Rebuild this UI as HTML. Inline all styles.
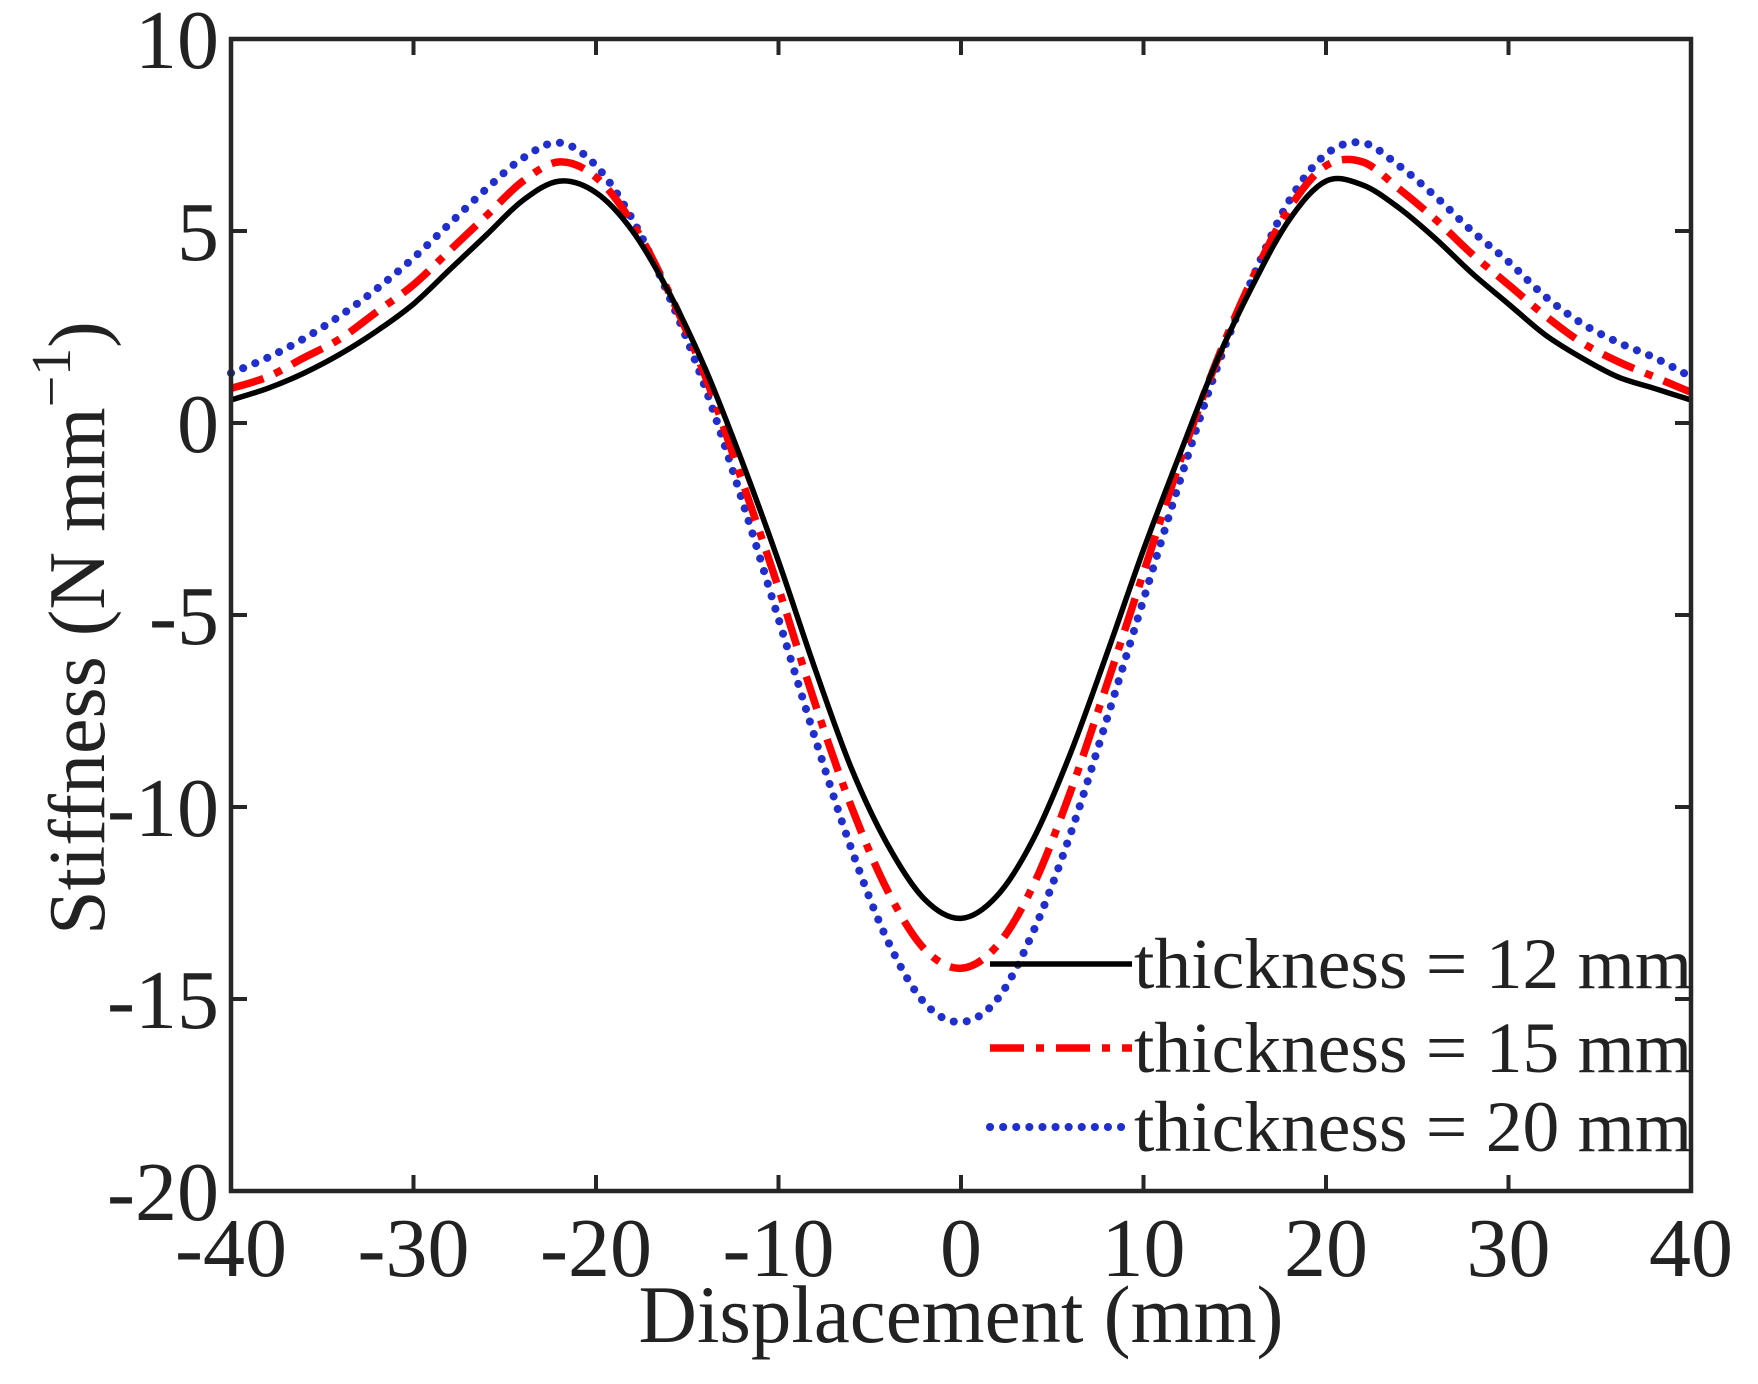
<!DOCTYPE html>
<html><head><meta charset="utf-8"><style>
html,body{margin:0;padding:0;background:#fff}
svg{display:block}
text{font-family:"Liberation Serif",serif;fill:#222}
</style></head><body>
<svg id="chart" width="1758" height="1384" viewBox="0 0 1758 1384" xmlns="http://www.w3.org/2000/svg">
<g id="plot"></g>
<g id="axes"></g>
<text x="961" y="1342" font-size="82" text-anchor="middle" textLength="645" lengthAdjust="spacingAndGlyphs">Displacement (mm)</text>
<text transform="translate(104,628) rotate(-90)" font-size="80" text-anchor="middle">Stiffness (N mm<tspan font-size="56" dy="-34">−1</tspan><tspan dy="34">)</tspan></text>
<g id="legend"></g>
</svg>
<script>
const xs = [-40,-38,-36,-34,-32,-30,-28,-26,-24,-22,-20,-18,-16,-14,-12,-10,-8,-6,-4,-2,0,2,4,6,8,10,12,14,16,18,20,22,24,26,28,30,32,34,36,38,40];
const s12 = [0.6,0.9,1.3,1.8,2.4,3.1,4.0,4.9,5.8,6.3,6.0,5.0,3.4,1.4,-1.0,-3.6,-6.4,-9.0,-11.0,-12.4,-12.9,-12.3,-10.8,-8.6,-6.0,-3.3,-0.8,1.6,3.6,5.3,6.3,6.2,5.6,4.8,3.9,3.1,2.3,1.7,1.2,0.9,0.6];
const s15 = [0.9,1.2,1.7,2.2,2.9,3.6,4.5,5.4,6.3,6.8,6.4,5.2,3.4,1.2,-1.5,-4.3,-7.3,-10.0,-12.2,-13.7,-14.2,-13.6,-12.0,-9.6,-6.8,-3.9,-1.0,1.6,3.8,5.6,6.7,6.8,6.1,5.3,4.4,3.6,2.8,2.1,1.6,1.2,0.8];
const s20 = [1.3,1.7,2.2,2.8,3.5,4.3,5.2,6.1,6.9,7.3,6.7,5.3,3.3,0.9,-2.0,-5.1,-8.2,-11.1,-13.5,-15.1,-15.6,-15.0,-13.2,-10.7,-7.7,-4.6,-1.5,1.4,3.8,5.8,7.0,7.3,6.7,5.9,5.0,4.2,3.3,2.6,2.1,1.7,1.2];
const xTicks = [-40,-30,-20,-10,0,10,20,30,40];
const yTicks = [10,5,0,-5,-10,-15,-20];
const seriesNames = ["thickness = 12 mm","thickness = 15 mm","thickness = 20 mm"];

const L=231,R=1691,T=39,B=1191;
const sx=v=>L+(v+40)/80*(R-L);
const sy=v=>T+(10-v)/30*(B-T);
const NS="http://www.w3.org/2000/svg";
function mk(tag,attrs,parent){const e=document.createElementNS(NS,tag);for(const k in attrs)e.setAttribute(k,attrs[k]);parent.appendChild(e);return e;}
const plot=document.getElementById('plot'),axes=document.getElementById('axes'),legend=document.getElementById('legend');

function smoothPath(ys){
  const p=xs.map((x,i)=>[sx(x),sy(ys[i])]);
  let d=`M${p[0][0]},${p[0][1]}`;
  for(let i=0;i<p.length-1;i++){
    const p0=p[Math.max(0,i-1)],p1=p[i],p2=p[i+1],p3=p[Math.min(p.length-1,i+2)];
    const c1=[p1[0]+(p2[0]-p0[0])/6,p1[1]+(p2[1]-p0[1])/6];
    const c2=[p2[0]-(p3[0]-p1[0])/6,p2[1]-(p3[1]-p1[1])/6];
    d+=` C${c1[0]},${c1[1]} ${c2[0]},${c2[1]} ${p2[0]},${p2[1]}`;
  }
  return d;
}
const styles=[
 {stroke:"#000",dash:"",w:5.5,cap:"butt",name:"series-12mm"},
 {stroke:"#ff0000",dash:"34 12 8 12",w:7.5,cap:"butt",name:"series-15mm"},
 {stroke:"#1f2ecc",dash:"0.1 13",w:8,cap:"round",name:"series-20mm"}];
const data=[s12,s15,s20];
for(let k=2;k>=0;k--){
  const st=styles[k];
  const e=mk('path',{d:smoothPath(data[k]),fill:"none",stroke:st.stroke,"stroke-width":st.w,"stroke-dasharray":st.dash,"stroke-linecap":st.cap,"stroke-linejoin":"round"},plot);
  
  
}
const box=mk('rect',{x:L,y:T,width:R-L,height:B-T,fill:"none",stroke:"#262626","stroke-width":4.5},axes);


xTicks.forEach(v=>{
  const x=sx(v);
  const t1=mk('line',{x1:x,x2:x,y1:B,y2:B-16,stroke:"#262626","stroke-width":4},axes);
  
  
  const t2=mk('line',{x1:x,x2:x,y1:T,y2:T+16,stroke:"#262626","stroke-width":4},axes);
  
  
  const lb=mk('text',{x:x,y:1276,"font-size":84,"text-anchor":"middle"},axes);
  lb.textContent=String(v);
  
  
});
yTicks.forEach(v=>{
  const y=sy(v);
  const t1=mk('line',{x1:L,x2:L+16,y1:y,y2:y,stroke:"#262626","stroke-width":4},axes);
  
  
  const t2=mk('line',{x1:R,x2:R-16,y1:y,y2:y,stroke:"#262626","stroke-width":4},axes);
  
  
  const lb=mk('text',{x:219,y:y+29,"font-size":84,"text-anchor":"end"},axes);
  lb.textContent=String(v);
  
  
});
const ly=[964,1048,1127];
seriesNames.forEach((n,k)=>{
  const st=styles[k];
  const ln=mk('line',{x1:990,x2:1132,y1:ly[k],y2:ly[k],stroke:st.stroke,"stroke-width":st.w,"stroke-dasharray":st.dash,"stroke-linecap":st.cap},legend);
  
  
  const tx=mk('text',{x:1134,y:ly[k]+24,"font-size":72,textLength:558,lengthAdjust:"spacingAndGlyphs"},legend);
  tx.textContent=n;
  
  
});
</script>
</body></html>
